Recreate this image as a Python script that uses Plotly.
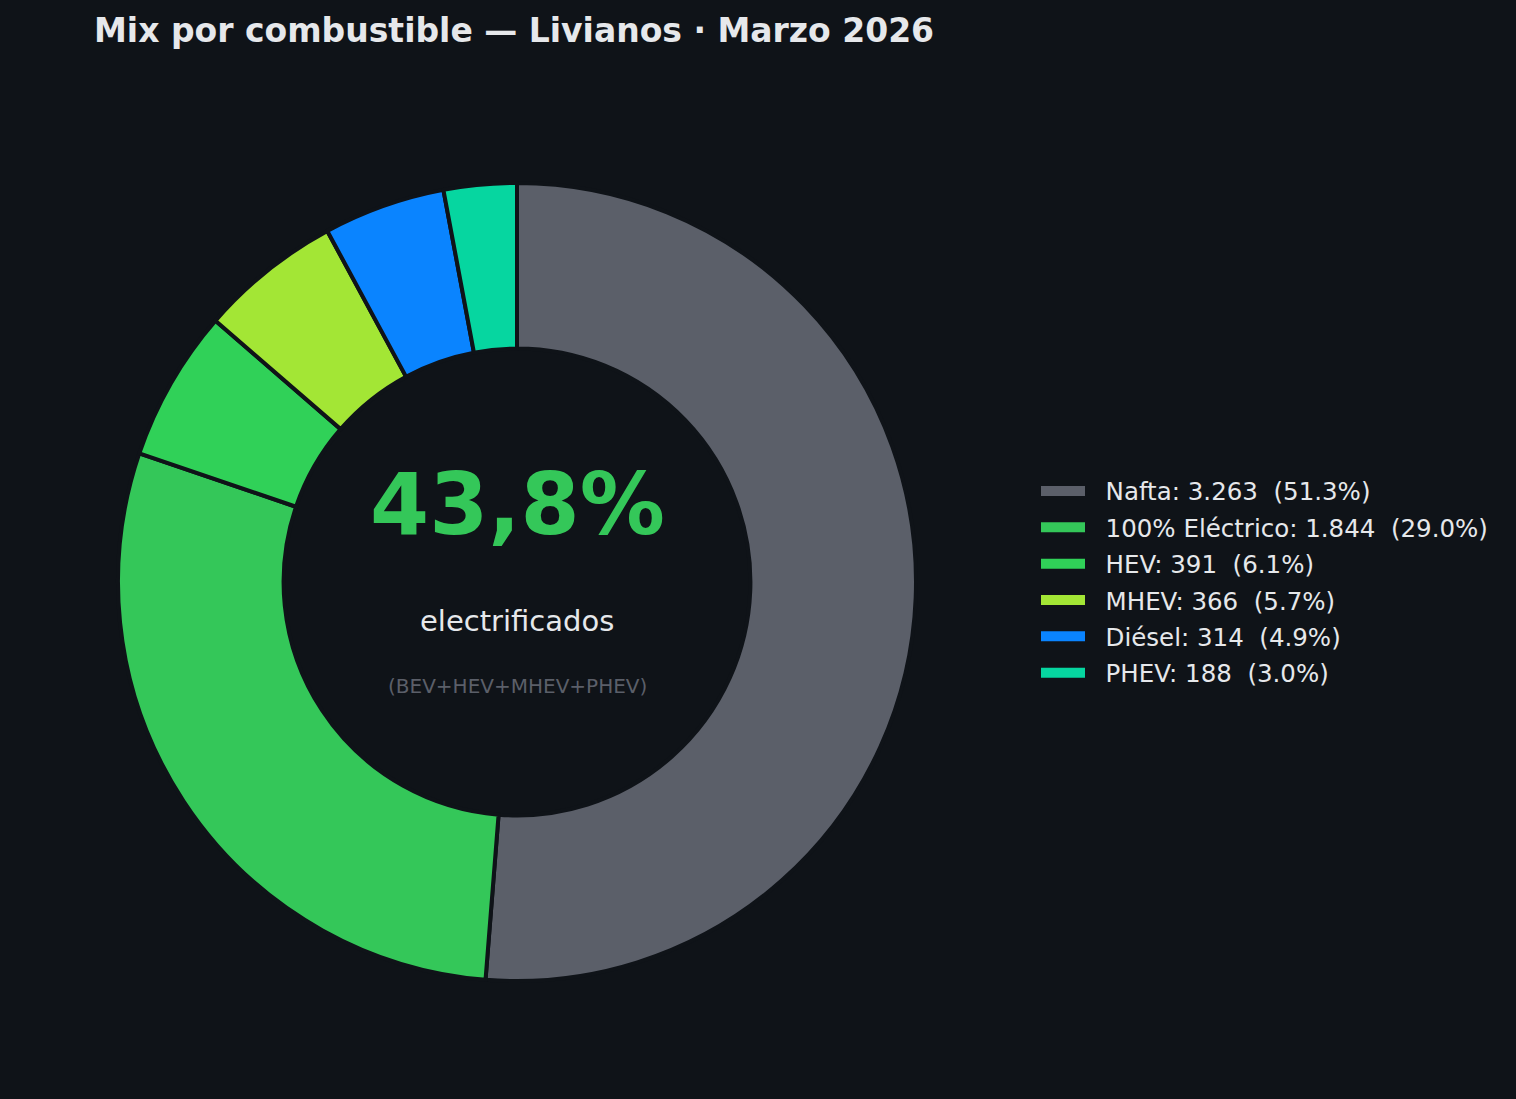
import plotly.graph_objects as go

# data
fuels = ["Nafta", "100% Eléctrico", "HEV", "MHEV", "Diésel", "PHEV"]
units = [3263, 1844, 391, 366, 314, 188]
colors = ["#5b5f69", "#34c759", "#30d158", "#a3e635", "#0a84ff", "#06d6a0"]
electrified = ["100% Eléctrico", "HEV", "MHEV", "PHEV"]

BG = "#0f1318"
W, H = 1516, 1099

total = sum(units)
labels = []
for f, u in zip(fuels, units):
    num = f"{u:,}".replace(",", ".")
    labels.append(f"{f}: {num}\u00a0\u00a0({u / total * 100:.1f}%)")

elec_share = sum(u for f, u in zip(fuels, units) if f in electrified) / total * 100
elec_txt = f"{elec_share:.1f}%".replace(".", ",")

# pie geometry (pixels)
cx, cy, r = 517, 582, 399

fig = go.Figure(go.Pie(
    labels=labels,
    values=units,
    hole=0.585,
    sort=False,
    direction="clockwise",
    rotation=0,
    marker=dict(colors=colors, line=dict(color=BG, width=4)),
    textinfo="none",
    showlegend=False,
    domain=dict(x=[(cx - r) / W, (cx + r) / W],
                y=[(H - cy - r) / H, (H - cy + r) / H]),
))

# legend proxies: wide colour bars like the original legend patches
for lab, col in zip(labels, colors):
    fig.add_trace(go.Scatter(x=[None], y=[None], mode="lines",
                             name="\u00a0\u00a0" + lab, legendgroup=lab,
                             line=dict(color=col, width=14)))

fig.update_xaxes(visible=False)
fig.update_yaxes(visible=False)

fig.update_layout(
    width=W, height=H,
    paper_bgcolor=BG, plot_bgcolor=BG,
    margin=dict(l=0, r=0, t=0, b=0),
    font=dict(family="DejaVu Sans", color="#e6e8eb"),
    legend=dict(x=1036 / W, y=(H - 582) / H, xanchor="left", yanchor="middle",
                font=dict(size=24.5, color="#e6e8eb"), bgcolor="rgba(0,0,0,0)",
                traceorder="grouped", tracegroupgap=1.5, itemwidth=44),
    annotations=[
        dict(text="<b>Mix por combustible — Livianos · Marzo 2026</b>",
             x=92 / W, y=1 - 31 / H, xref="paper", yref="paper",
             xanchor="left", yanchor="middle", showarrow=False,
             font=dict(size=33, color="#e6e8eb")),
        dict(text=f"<b>{elec_txt}</b>", x=cx / W, y=1 - 505 / H,
             xref="paper", yref="paper", xanchor="center", yanchor="middle",
             showarrow=False, font=dict(size=85, color="#34c759")),
        dict(text="electrificados", x=cx / W, y=1 - 621 / H,
             xref="paper", yref="paper", xanchor="center", yanchor="middle",
             showarrow=False, font=dict(size=29, color="#e6e8eb")),
        dict(text="(BEV+HEV+MHEV+PHEV)", x=cx / W, y=1 - 686 / H,
             xref="paper", yref="paper", xanchor="center", yanchor="middle",
             showarrow=False, font=dict(size=20, color="#5b5f69")),
    ],
)

fig.write_html(
    "out.html",
    config={"displayModeBar": False},
    post_script="document.body.style.margin='0';document.body.style.overflow='hidden';"
                "document.body.style.background='" + BG + "';",
)
